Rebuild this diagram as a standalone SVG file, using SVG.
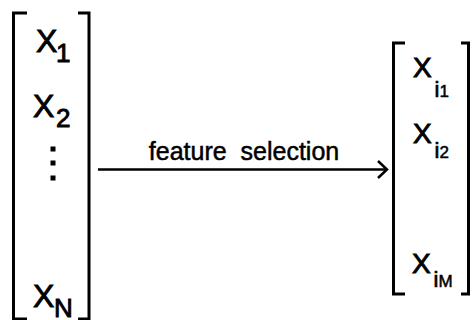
<svg xmlns="http://www.w3.org/2000/svg" width="472" height="320" viewBox="0 0 472 320">
  <style>
    .bracket { fill: none; stroke: #000; stroke-width: 3; stroke-linecap: butt; stroke-linejoin: miter; }
    .edge { fill: none; stroke: #000; stroke-width: 2.5; }
    .sym { font-family: "Liberation Sans", Arial, sans-serif; fill: #000; stroke: #000; stroke-width: 0.9; }
    .big { font-size: 32px; }
    .mid { font-size: 28px; }
    .sub { font-size: 26px; }
    .subi { font-size: 22px; stroke-width: 0.7; }
    .subsub { font-size: 17px; stroke-width: 0.5; }
    .label { font-family: "Liberation Sans", Arial, sans-serif; font-size: 25px; fill: #000; stroke: #000; stroke-width: 0.5; }
  </style>
  <rect width="472" height="320" fill="#fff"/>

  <!-- input feature vector x_1 ... x_N -->
  <g id="input-vector">
    <path class="bracket" d="M27,13 H13.5 V319 H27"/>
    <path class="bracket" d="M78,13 H89 V319 H78"/>
    <text class="sym big" x="36" y="52">X</text>
    <text class="sym sub" x="56" y="62">1</text>
    <text class="sym big" x="33" y="117">X</text>
    <text class="sym sub" x="56" y="127">2</text>
    <rect x="50.5" y="146.5" width="5" height="5"/>
    <rect x="50.5" y="160.5" width="5" height="5"/>
    <rect x="50.5" y="175.5" width="5" height="5"/>
    <text class="sym big" x="33" y="307">X</text>
    <text class="sym sub" x="54" y="317">N</text>
  </g>

  <!-- selected features x_i1 ... x_iM -->
  <g id="selected-vector">
    <path class="bracket" d="M405,43 H393.5 V294 H405"/>
    <path class="bracket" d="M461,43 H468.5 V294 H461"/>
    <text class="sym mid" x="413" y="77">X</text>
    <text class="sym subi" x="434.5" y="97">i<tspan class="subsub">1</tspan></text>
    <text class="sym mid" x="413" y="143">X</text>
    <text class="sym subi" x="434.5" y="158">i<tspan class="subsub">2</tspan></text>
    <text class="sym mid" x="412" y="273">X</text>
    <text class="sym subi" x="433.5" y="287">i<tspan class="subsub">M</tspan></text>
  </g>

  <!-- mapping arrow -->
  <g id="connectors">
    <path class="edge" d="M98,169.5 H386"/>
    <path class="edge" d="M378,161 L387,169.5 L378,178"/>
    <text class="label" x="244" y="160" text-anchor="middle" xml:space="preserve">feature  selection</text>
  </g>
</svg>
